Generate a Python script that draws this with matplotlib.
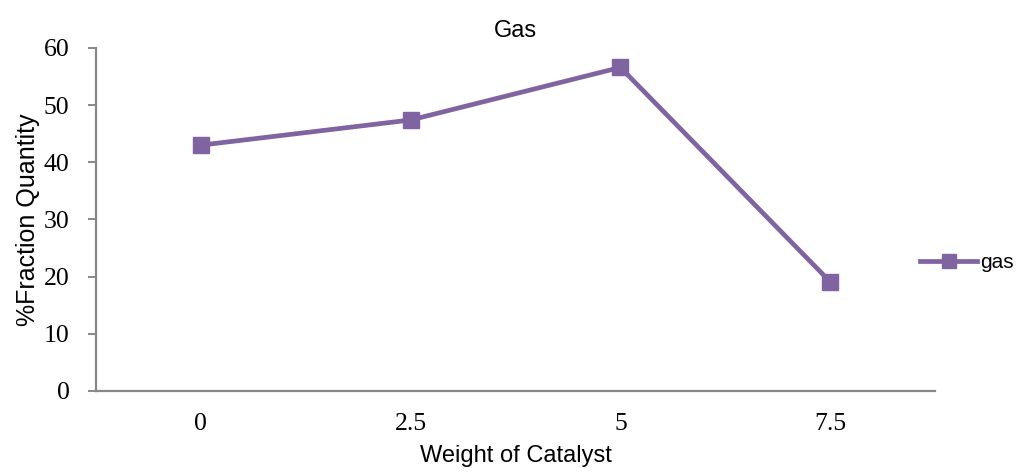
# IMPORT LIBRARY
import matplotlib
matplotlib.use("Agg")
import matplotlib.pyplot as plt

# DATA
categories = ["0", "2.5", "5", "7.5"]
gas = [43.0, 47.4, 56.6, 19.1]

# PLOT
fig = plt.figure(figsize=(10.17, 4.75), dpi=100)
ax = fig.add_axes([0.0944, 0.177, 0.825, 0.722])

x = range(len(categories))
ax.plot(x, gas, color="#8064A2", linewidth=3.4, marker="s", markersize=12, label="gas")

ax.set_xlim(-0.5, len(categories) - 0.5)
ax.set_ylim(0, 60)
ax.set_yticks(range(0, 61, 10))
ax.set_xticks(list(x))
ax.set_xticklabels(categories)

for lab in ax.get_xticklabels() + ax.get_yticklabels():
    lab.set_fontfamily("Liberation Serif")
    lab.set_fontsize(18.5)

ax.tick_params(axis="x", length=0, pad=16)
ax.tick_params(axis="y", length=6, width=1.4, color="#888888", pad=13)

for side in ["top", "right"]:
    ax.spines[side].set_visible(False)
for side in ["left", "bottom"]:
    ax.spines[side].set_color("#888888")
    ax.spines[side].set_linewidth(1.6)

ax.set_title("Gas", fontfamily="Liberation Sans", fontsize=17, pad=8)
ax.set_xlabel("Weight of Catalyst", fontfamily="Liberation Sans", fontsize=17, labelpad=7)
ax.set_ylabel("%Fraction Quantity", fontfamily="Liberation Sans", fontsize=18, labelpad=3)

ax.legend(loc="center left", bbox_to_anchor=(920 / 1017, 1 - 263 / 475),
          bbox_transform=fig.transFigure, frameon=False, borderpad=0,
          borderaxespad=0, prop={"family": "Liberation Sans", "size": 15},
          handlelength=2.75, handletextpad=0.15, markerscale=0.8)

fig.savefig("out.png", dpi=100)
